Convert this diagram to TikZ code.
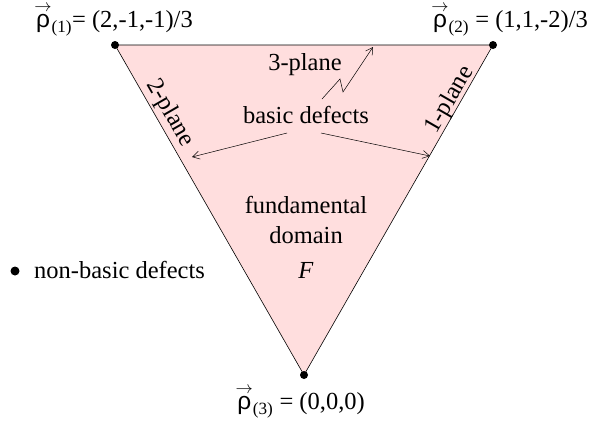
\documentclass[tikz,border=0pt]{standalone}
\usepackage{amsmath}
\usepackage{fontspec}
\setmainfont{Liberation Serif}
\newfontfamily\rhofont{Liberation Sans}
\usetikzlibrary{arrows.meta}

\definecolor{domainpink}{RGB}{255,222,222}
\newcommand{\rhovec}[1]{$\overset{\raisebox{-5.5pt}{$\scriptstyle\rightarrow$}}{\text{\rhofont ρ}}_{\text{(#1)}}$}

\begin{document}
\begin{tikzpicture}[x=1pt, y=-1pt,
    font=\fontsize{24.5}{28}\selectfont,
    vertex/.style={fill=black, circle, inner sep=0pt, minimum size=8pt},
    lbl/.style={inner sep=0pt, anchor=base},
    planelbl/.style={inner sep=0pt, anchor=center},
    defarrow/.style={-{Straight Barb[length=7pt, width=8pt]}, line width=0.5pt}
]
\useasboundingbox (0,0) rectangle (594,424);

% ================================================================
%  Fundamental domain
% ================================================================
\coordinate (r1) at (115, 45);
\coordinate (r2) at (493, 45);
\coordinate (r3) at (304, 375);

\filldraw[fill=domainpink, line width=0.6pt] (r1) -- (r2) -- (r3) -- cycle;

\node[vertex] (v1) at (r1) {};
\node[vertex] (v2) at (r2) {};
\node[vertex] (v3) at (r3) {};

% vertex labels
\node[lbl, anchor=base east] (l1) at (193, 27) {\rhovec{1}= (2,-1,-1)/3};
\node[lbl, anchor=base east] (l2) at (588, 27) {\rhovec{2} = (1,1,-2)/3};
\node[lbl, anchor=base east] (l3) at (365, 409) {\rhovec{3} = (0,0,0)};

% ================================================================
%  Planes and defects
% ================================================================
\node[planelbl, rotate=-60] (p2) at (170, 113) {2-plane};
\node[planelbl, rotate=60]  (p1) at (450, 100) {1-plane};
\node[lbl] (p3) at (305, 70) {3-plane};

\node[lbl] (basic) at (306, 123) {basic defects};

\coordinate (b2s) at (287, 133);
\coordinate (b2e) at (192, 157);
\coordinate (b1s) at (321, 133);
\coordinate (b1e) at (430, 156);
\draw[defarrow] (b2s) -- (b2e);
\draw[defarrow] (b1s) -- (b1e);

% zigzag to the 3-plane
\coordinate (z0) at (322, 99);
\coordinate (z1) at (340, 79);
\coordinate (z2) at (343, 92);
\coordinate (z3) at (373, 47);
\draw[defarrow] (z0) -- (z1) -- (z2) -- (z3);

\node[lbl] (fund) at (306, 213) {fundamental};
\node[lbl] (dom)  at (306, 243) {domain};
\node[lbl] (F)    at (306, 278) {\textit{F}};

% ================================================================
%  Legend
% ================================================================
\node[vertex, minimum size=9pt] (nbdot) at (15, 271) {};
\node[lbl, anchor=base west] (nb) at (34, 278) {non-basic defects};
\end{tikzpicture}
\end{document}
